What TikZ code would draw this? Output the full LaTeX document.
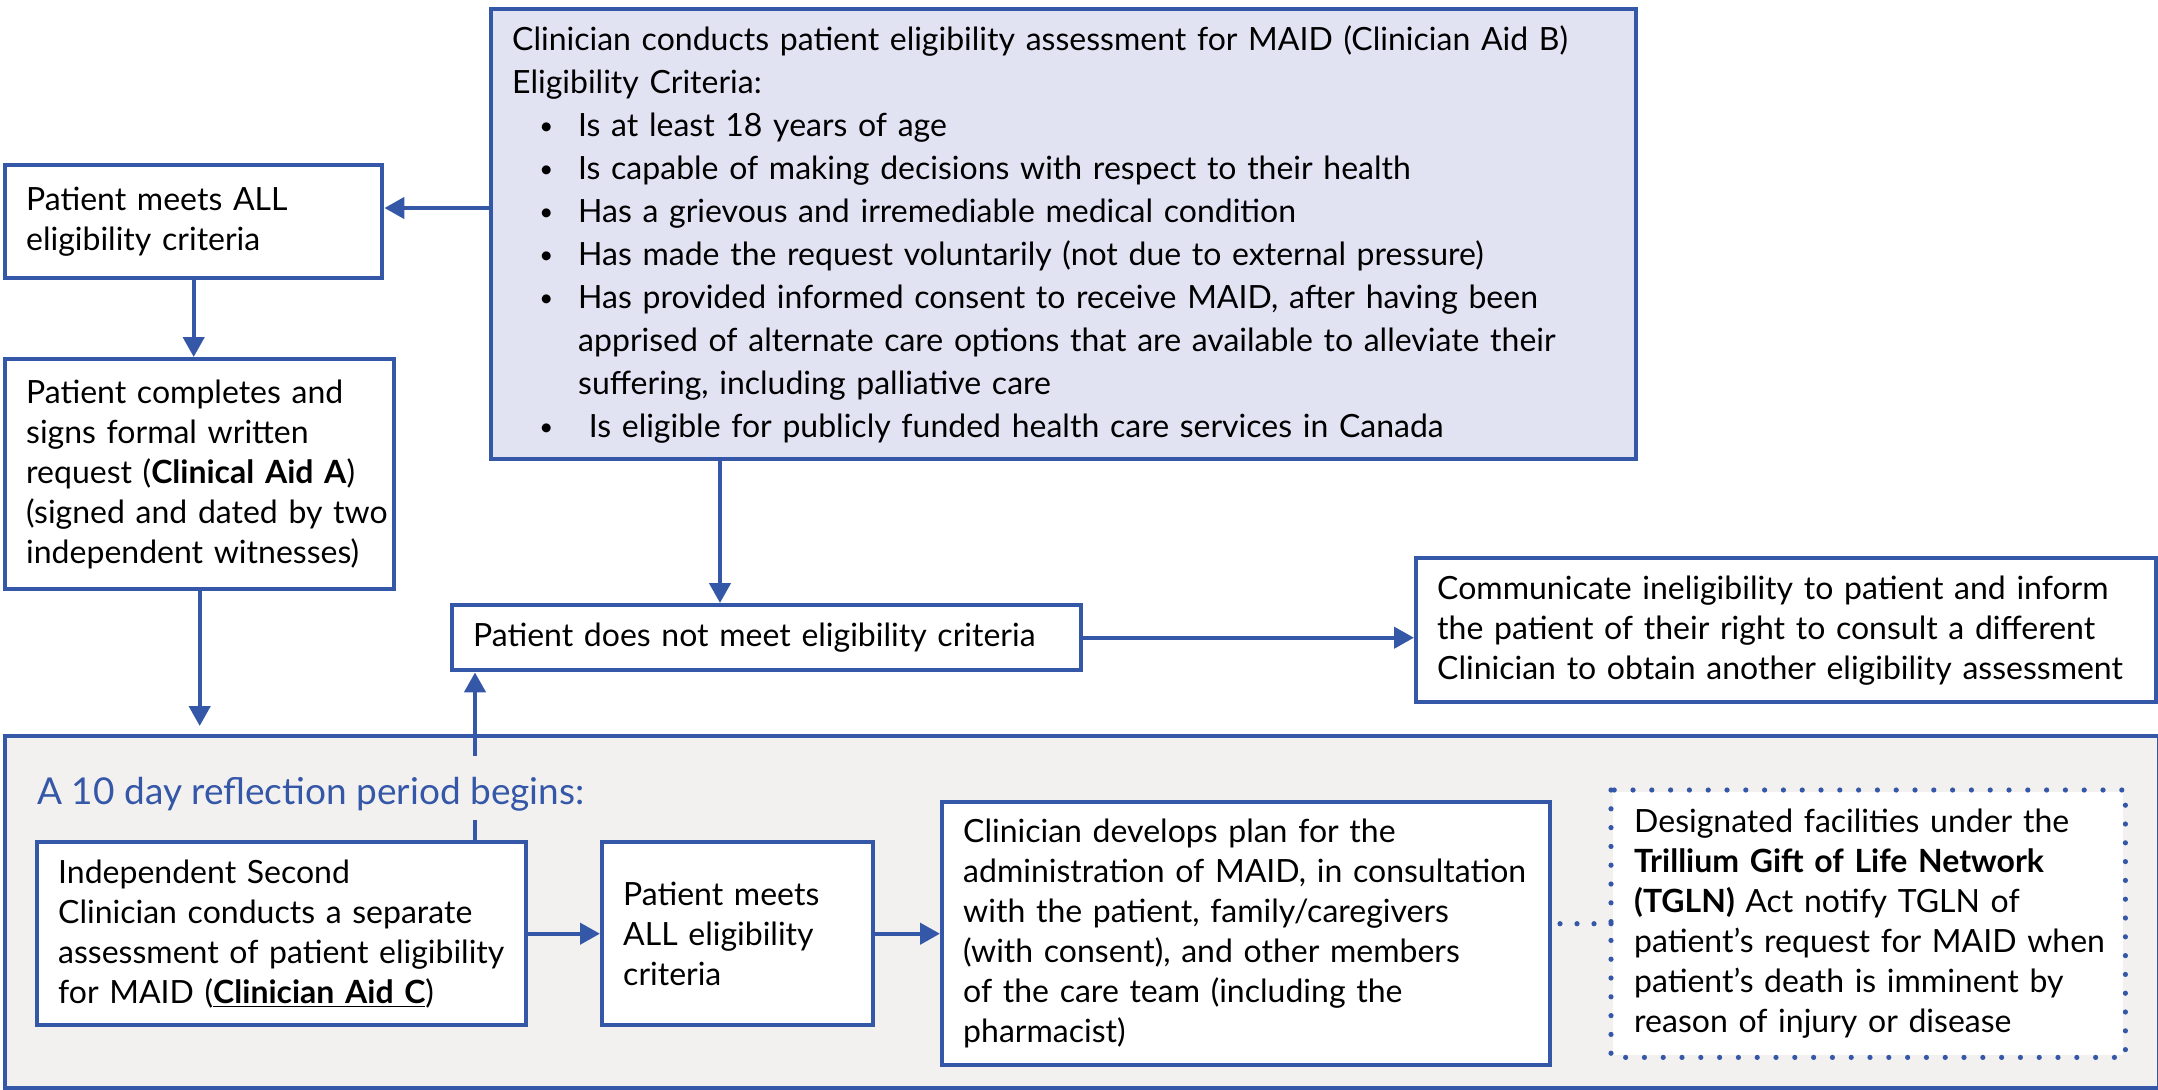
\documentclass[tikz,border=0pt]{standalone}
\usepackage{fontspec}
\setmainfont{Lato}
\usetikzlibrary{arrows.meta}
\definecolor{mblue}{HTML}{3557A7}
\definecolor{lav}{HTML}{E1E3F3}
\definecolor{graybg}{HTML}{F2F1F0}
\newcommand{\critdot}{{\fontsize{12}{12}\selectfont\raisebox{0.8pt}{\textbullet}}}
\begin{document}
\begin{tikzpicture}[>={Triangle[length=10pt,width=10.5pt]}, x=0.5pt, y=-0.5pt,
	box/.style={draw=mblue, line width=2.2pt, fill=white, anchor=north west, align=left, inner xsep=6pt, inner ysep=0pt, font=\fontsize{16}{20}\selectfont,
		execute at begin node={\leftskip=4.5pt\rightskip=-20pt plus 1fil}},
	link/.style={->, draw=mblue, line width=2.2pt},
	dotline/.style={draw=mblue, line width=2.6pt, line cap=round, dash pattern=on 0pt off 9.4pt}]
	\useasboundingbox (0,0) rectangle (2158,1089);
	% reflection period region
	\node[box, fill=graybg, minimum width=1077pt, minimum height=176pt, inner sep=0pt] (reflect) at (3,734) {};
	% upper flow
	\node[box, fill=lav, text width=560.5pt, minimum height=225pt, font=\fontsize{16}{21.5}\selectfont] (crit) at (489,7) {Clinician conducts patient eligibility assessment for MAID (Clinician Aid B)\\Eligibility Criteria:
		\begin{list}{\critdot}{\setlength{\leftmargin}{37.5pt}\setlength{\labelwidth}{10pt}\setlength{\labelsep}{12.5pt}\setlength{\itemsep}{0pt}\setlength{\topsep}{0pt}\setlength{\parsep}{0pt}\setlength{\partopsep}{0pt}}
		\item Is at least 18 years of age
		\item Is capable of making decisions with respect to their health
		\item Has a grievous and irremediable medical condition
		\item Has made the request voluntarily (not due to external pressure)
		\item Has provided informed consent to receive MAID, after having been\\apprised of alternate care options that are available to alleviate their\\suffering, including palliative care
		\item \ Is eligible for publicly funded health care services in Canada
		\end{list}};
	\node[box, text width=176.5pt, minimum height=56.5pt] (meets) at (3,163) {Patient meets ALL\\eligibility criteria};
	\node[box, text width=182.5pt, minimum height=115pt] (request) at (3,357) {Patient completes and\\signs formal written\\request (\textbf{Clinical Aid A})\\(signed and dated by two\\independent witnesses)};
	\node[box, text width=302.5pt, minimum height=32.5pt] (notmeet) at (450,603) {Patient does not meet eligibility criteria};
	\node[box, text width=358pt, minimum height=72pt] (inform) at (1414,556) {Communicate ineligibility to patient and inform\\the patient of their right to consult a different\\Clinician to obtain another eligibility assessment};
	% inside the reflection period
	\node[box, text width=232.5pt, minimum height=91.5pt] (second) at (35,840) {Independent Second\\Clinician conducts a separate\\assessment of patient eligibility\\for MAID (\textbf{\underline{Clinician Aid C}})};
	\node[box, text width=123.5pt, minimum height=91.5pt] (meetstwo) at (600,840) {Patient meets\\ALL eligibility\\criteria};
	\node[box, text width=292pt, minimum height=131.5pt] (plan) at (940,800) {Clinician develops plan for the\\administration of MAID, in consultation\\with the patient, family/caregivers\\(with consent), and other members\\of the care team (including the\\pharmacist)};
	\node[box, draw=none, text width=243pt, minimum height=131.5pt] (tgln) at (1611,790) {Designated facilities under the\\\textbf{Trillium Gift of Life Network}\\\textbf{(TGLN)} Act notify TGLN of\\patient’s request for MAID when\\patient’s death is imminent by\\reason of injury or disease};
	\draw[dotline] (tgln.north west) rectangle (tgln.south east);
	% connectors
	\coordinate (left) at (0,208);
	\coordinate (down) at (720,0);
	\coordinate (up) at (475,0);
	\draw[link] (crit.west |- left) -- (meets.east |- left);
	\draw[link] (meets.south) -- (meets.south |- request.north);
	\draw[link, shorten >=4pt] (request.south) -- (request.south |- reflect.north);
	\draw[link] (down |- crit.south) -- (down |- notmeet.north);
	\draw[link] (notmeet.east) -- (notmeet.east -| inform.west);
	\draw[link] (up |- second.north) -- (up |- notmeet.south);
	\draw[link] (second.east) -- (meetstwo.west);
	\draw[link] (meetstwo.east) -- (plan.west);
	\draw[dotline, dash pattern=on 0pt off 8.5pt] (tgln.west) -- (tgln.west -| plan.east);
	\node[anchor=base west, fill=graybg, text=mblue, inner xsep=4pt, inner ysep=0pt, text height=24pt, text depth=8pt, font=\fontsize{18.5}{22}\selectfont] (label) at (29,804) {A 10 day reflection period begins:};
\end{tikzpicture}
\end{document}
